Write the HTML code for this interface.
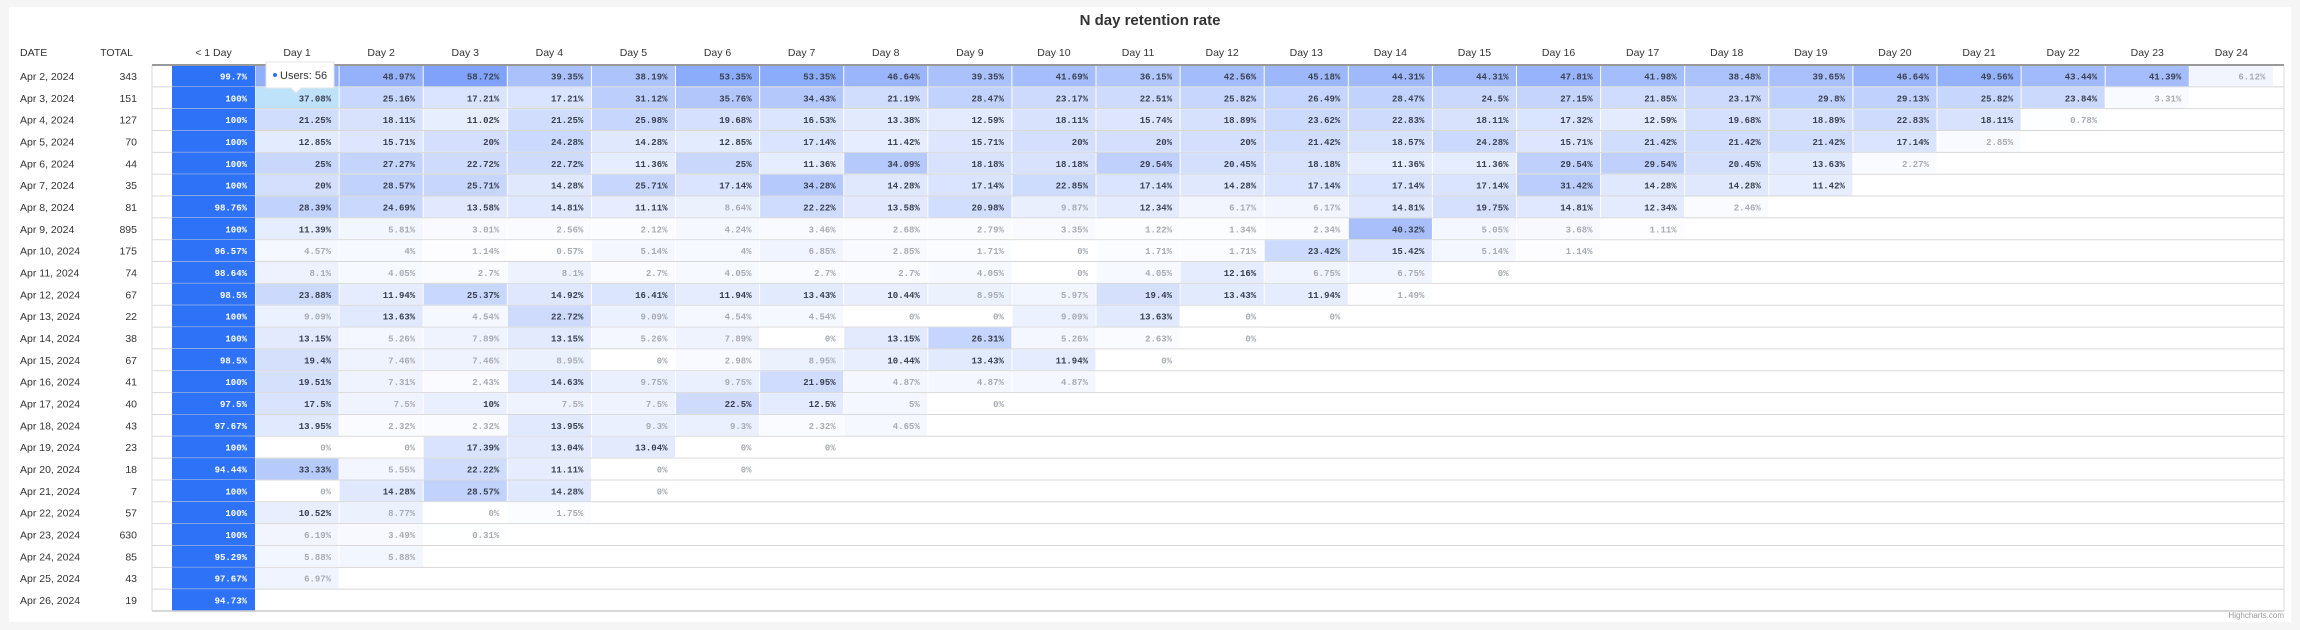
<!DOCTYPE html>
<html><head><meta charset="utf-8">
<style>
html,body{margin:0;padding:0;background:#f5f5f5;}
svg{display:block;font-family:"Liberation Sans",sans-serif;}
</style></head>
<body>
<svg id="chart" width="2300" height="630" viewBox="0 0 2300 630" xmlns="http://www.w3.org/2000/svg">
<rect x="9" y="7" width="2282" height="615" fill="#ffffff"/>
<text x="1150" y="25" text-anchor="middle" font-size="15" font-weight="bold" fill="#333">N day retention rate</text>
<text x="20" y="56" font-size="10.5" fill="#333">DATE</text>
<text x="133" y="56" text-anchor="end" font-size="10.5" fill="#333">TOTAL</text>
<g id="grid"></g>
<text x="2284" y="618" text-anchor="end" font-size="8" fill="#999">Highcharts.com</text>
</svg>
<script>
const dates = ["Apr 2, 2024","Apr 3, 2024","Apr 4, 2024","Apr 5, 2024","Apr 6, 2024","Apr 7, 2024","Apr 8, 2024","Apr 9, 2024","Apr 10, 2024","Apr 11, 2024","Apr 12, 2024","Apr 13, 2024","Apr 14, 2024","Apr 15, 2024","Apr 16, 2024","Apr 17, 2024","Apr 18, 2024","Apr 19, 2024","Apr 20, 2024","Apr 21, 2024","Apr 22, 2024","Apr 23, 2024","Apr 24, 2024","Apr 25, 2024","Apr 26, 2024"];
const totals = [343,151,127,70,44,35,81,895,175,74,67,22,38,67,41,40,43,23,18,7,57,630,85,43,19];
const dayLabels = ["< 1 Day","Day 1","Day 2","Day 3","Day 4","Day 5","Day 6","Day 7","Day 8","Day 9","Day 10","Day 11","Day 12","Day 13","Day 14","Day 15","Day 16","Day 17","Day 18","Day 19","Day 20","Day 21","Day 22","Day 23","Day 24"];
const firstDay = [99.7,100,100,100,100,100,98.76,100,96.57,98.64,98.5,100,100,98.5,100,97.5,97.67,100,94.44,100,100,100,95.29,97.67,94.73];
const retention = [
[50.43,48.97,58.72,39.35,38.19,53.35,53.35,46.64,39.35,41.69,36.15,42.56,45.18,44.31,44.31,47.81,41.98,38.48,39.65,46.64,49.56,43.44,41.39,6.12],
[37.08,25.16,17.21,17.21,31.12,35.76,34.43,21.19,28.47,23.17,22.51,25.82,26.49,28.47,24.5,27.15,21.85,23.17,29.8,29.13,25.82,23.84,3.31],
[21.25,18.11,11.02,21.25,25.98,19.68,16.53,13.38,12.59,18.11,15.74,18.89,23.62,22.83,18.11,17.32,12.59,19.68,18.89,22.83,18.11,0.78],
[12.85,15.71,20,24.28,14.28,12.85,17.14,11.42,15.71,20,20,20,21.42,18.57,24.28,15.71,21.42,21.42,21.42,17.14,2.85],
[25,27.27,22.72,22.72,11.36,25,11.36,34.09,18.18,18.18,29.54,20.45,18.18,11.36,11.36,29.54,29.54,20.45,13.63,2.27],
[20,28.57,25.71,14.28,25.71,17.14,34.28,14.28,17.14,22.85,17.14,14.28,17.14,17.14,17.14,31.42,14.28,14.28,11.42],
[28.39,24.69,13.58,14.81,11.11,8.64,22.22,13.58,20.98,9.87,12.34,6.17,6.17,14.81,19.75,14.81,12.34,2.46],
[11.39,5.81,3.01,2.56,2.12,4.24,3.46,2.68,2.79,3.35,1.22,1.34,2.34,40.32,5.05,3.68,1.11],
[4.57,4,1.14,0.57,5.14,4,6.85,2.85,1.71,0,1.71,1.71,23.42,15.42,5.14,1.14],
[8.1,4.05,2.7,8.1,2.7,4.05,2.7,2.7,4.05,0,4.05,12.16,6.75,6.75,0],
[23.88,11.94,25.37,14.92,16.41,11.94,13.43,10.44,8.95,5.97,19.4,13.43,11.94,1.49],
[9.09,13.63,4.54,22.72,9.09,4.54,4.54,0,0,9.09,13.63,0,0],
[13.15,5.26,7.89,13.15,5.26,7.89,0,13.15,26.31,5.26,2.63,0],
[19.4,7.46,7.46,8.95,0,2.98,8.95,10.44,13.43,11.94,0],
[19.51,7.31,2.43,14.63,9.75,9.75,21.95,4.87,4.87,4.87],
[17.5,7.5,10,7.5,7.5,22.5,12.5,5,0],
[13.95,2.32,2.32,13.95,9.3,9.3,2.32,4.65],
[0,0,17.39,13.04,13.04,0,0],
[33.33,5.55,22.22,11.11,0,0],
[0,14.28,28.57,14.28,0],
[10.52,8.77,0,1.75],
[6.19,3.49,0.31],
[5.88,5.88],
[6.97],
[]
];

const NS = "http://www.w3.org/2000/svg";
const g = document.getElementById('grid');
const gridLeft = 152, gridRight = 2284, firstColX = 172, firstColW = 83, colW = 84.1;
const top0 = 65, rowH = 21.84;
const xCol = i => i === 0 ? firstColX : firstColX + firstColW + (i - 1) * colW;
const wCol = i => i === 0 ? firstColW : colW;
const yRow = r => top0 + r * rowH;
function fmt(v){ return (Math.round(v*100)/100) + '%'; }
function heat(v){
  const t = Math.min(v/60, 1);
  const r = Math.round(255 - 130*t), gg = Math.round(255 - 95*t), b = Math.round(255 - 5*t);
  return `rgb(${r},${gg},${b})`;
}
function mk(tag, attrs){ const e = document.createElementNS(NS, tag); for (const k in attrs) e.setAttribute(k, attrs[k]); return e; }

dayLabels.forEach((lab, i) => {
  const t = mk('text', {x: xCol(i) + wCol(i)/2, y: 56, 'text-anchor':'middle', 'font-size':'10.5', fill:'#333'});
  
  
  t.textContent = lab;
  g.appendChild(t);
});

dates.forEach((d, r) => {
  const y = yRow(r);
  const lt = mk('text', {x: 20, y: y + rowH/2 + 4, 'font-size':'10.5', fill:'#333'});
  
  
  lt.textContent = d; g.appendChild(lt);
  const tt = mk('text', {x: 137, y: y + rowH/2 + 4, 'text-anchor':'end', 'font-size':'10.5', fill:'#333'});
  
  
  tt.textContent = totals[r]; g.appendChild(tt);

  const fc = mk('rect', {x: xCol(0), y: y, width: wCol(0), height: rowH + 0.5, fill: '#2d72f7'});
  
  
  g.appendChild(fc);
  const ft = mk('text', {x: xCol(0) + wCol(0) - 8, y: y + rowH/2 + 3.5, 'text-anchor':'end', 'font-size':'9', 'font-weight':'bold', 'font-family':'Liberation Mono, monospace', fill:'#fff'});
  
  
  ft.textContent = fmt(firstDay[r]); g.appendChild(ft);

  retention[r].forEach((v, j) => {
    const i = j + 1;
    const hovered = (r === 1 && j === 0);
    const c = mk('rect', {x: xCol(i) + 0.5, y: y + 0.5, width: wCol(i) - 1, height: rowH - 1, fill: hovered ? '#bfe2fb' : heat(v)});
    
    
    g.appendChild(c);
    const t = mk('text', {x: xCol(i) + wCol(i) - 8, y: y + rowH/2 + 3.5, 'text-anchor':'end', 'font-size':'9', 'font-weight':'bold', 'font-family':'Liberation Mono, monospace', fill: v >= 10 ? '#3a4150' : '#a8abb2'});
    
    
    t.textContent = fmt(v); g.appendChild(t);
  });

  const ln = mk('line', {x1: gridLeft, x2: gridRight, y1: y + rowH, y2: y + rowH, stroke: '#d8d8d8', 'stroke-width': 1});
  
  
  g.appendChild(ln);
});

const bottom = yRow(dates.length);
const lb = mk('line', {x1: gridLeft, x2: gridLeft, y1: top0, y2: bottom, stroke: '#d8d8d8'});


g.appendChild(lb);
const rb = mk('line', {x1: gridRight, x2: gridRight, y1: top0, y2: bottom, stroke: '#d8d8d8'});


g.appendChild(rb);
const bb = mk('line', {x1: gridLeft, x2: gridRight, y1: bottom, y2: bottom, stroke: '#ccc', 'stroke-width': 1.5});


g.appendChild(bb);
const hl = mk('line', {x1: gridLeft, x2: gridRight, y1: top0, y2: top0, stroke: '#999', 'stroke-width': 2});


g.appendChild(hl);

const tip = mk('g', {});


tip.appendChild(mk('path', {d: 'M266,62 H334 V88 H301 L296,93 L291,88 H266 Z', fill: '#fff', stroke: '#e6e6e6', 'stroke-width': 1}));
tip.appendChild(mk('circle', {cx: 275, cy: 75, r: 2, fill: '#2d72f7'}));
const tt2 = mk('text', {x: 280, y: 79, 'font-size': '11', fill: '#333'});
tt2.textContent = 'Users: 56';
tip.appendChild(tt2);
g.appendChild(tip);
</script>
</body></html>
